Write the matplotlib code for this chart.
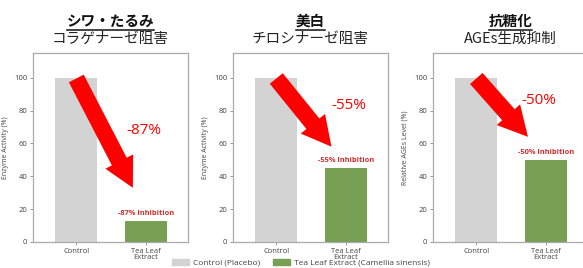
import numpy as np
import matplotlib
matplotlib.use("Agg")
import matplotlib.pyplot as plt
from matplotlib.patches import Patch
from matplotlib.lines import Line2D

# data
categories = ["Control", "Tea Leaf\nExtract"]
control_vals = [100, 100, 100]
tea_vals = [13, 45, 50]
reductions = ["-87%", "-55%", "-50%"]
titles_main = ["シワ・たるみ", "美白", "抗糖化"]
titles_sub = ["コラゲナーゼ阻害", "チロシナーゼ阻害", "AGEs生成抑制"]
ylabels = ["Enzyme Activity (%)", "Enzyme Activity (%)", "Relative AGEs Level (%)"]
# arrow tip (x, y) and big-label position per panel
arrow_tips = [(0.81, 33), (0.79, 58), (0.74, 64)]
label_pos = [(0.97, 68), (1.04, 83), (0.90, 86)]

grey = "#d3d3d3"
green = "#77a052"
jp_font = ["Noto Sans CJK JP", "DejaVu Sans"]
plt.rcParams["font.family"] = ["Open Sans", "DejaVu Sans"]

fig = plt.figure(figsize=(5.83, 2.68), dpi=100)
lefts = [33, 233, 433]
axes = []
for i in range(3):
    ax = fig.add_axes([lefts[i] / 583, 26 / 268, 155 / 583, 189 / 268])
    axes.append(ax)
    x = np.arange(2)
    ax.bar(x, [control_vals[i], tea_vals[i]], width=0.6, color=[grey, green])
    ax.set_xlim(-0.62, 1.6)
    ax.set_ylim(0, 115)
    ax.set_yticks([0, 20, 40, 60, 80, 100])
    ax.set_xticks(x)
    ax.set_xticklabels(categories, fontsize=5.5, color="#444", linespacing=0.95)
    ax.tick_params(axis="y", labelsize=5.5, labelcolor="#444", length=2, width=0.6, color="#888", pad=2)
    ax.tick_params(axis="x", length=2, width=0.6, color="#888", pad=2)
    ax.set_ylabel(ylabels[i], fontsize=5, color="#444", labelpad=4)
    for s in ax.spines.values():
        s.set_color("#aaaaaa")
        s.set_linewidth(0.9)

    # big red arrow
    ax.annotate("", xy=arrow_tips[i], xytext=(0.0, 99.5),
                arrowprops=dict(arrowstyle="simple,head_width=0.9,head_length=0.85,tail_width=0.48",
                                mutation_scale=25, color="#ff0000", lw=0, shrinkA=0, shrinkB=0))
    ax.text(label_pos[i][0], label_pos[i][1], reductions[i], color="#ff0000", fontsize=11,
            ha="center", va="center")
    ax.text(1, tea_vals[i] + 2.5, reductions[i] + " Inhibition", color="#d42a2a", fontsize=5.3,
            fontweight="bold", ha="center", va="bottom")

    ax.text(0.5, 1.075, titles_sub[i], transform=ax.transAxes, ha="center", va="center",
            fontsize=10.5, family=jp_font, color="#222")

# bold underlined headings
fig.canvas.draw()
renderer = fig.canvas.get_renderer()
for i, ax in enumerate(axes):
    t = ax.text(0.5, 1.17, titles_main[i], transform=ax.transAxes, ha="center", va="center",
                fontsize=10.5, family=jp_font, fontweight="bold", color="#111")
    bb = t.get_window_extent(renderer)
    yline = bb.y0 - 1
    fig.add_artist(Line2D([bb.x0, bb.x1], [yline, yline], transform=None, color="#111", lw=1.1))

handles = [Patch(color=grey, label="Control (Placebo)"),
           Patch(color=green, label="Tea Leaf Extract (Camellia sinensis)")]
fig.legend(handles=handles, loc="center", bbox_to_anchor=(301 / 583, 1 - 263 / 268), ncol=2,
           frameon=False, fontsize=6, handlelength=2.0, handleheight=0.75, columnspacing=1.5,
           handletextpad=0.5, labelcolor="#444", borderpad=0)

fig.savefig("out.png", dpi=100)
